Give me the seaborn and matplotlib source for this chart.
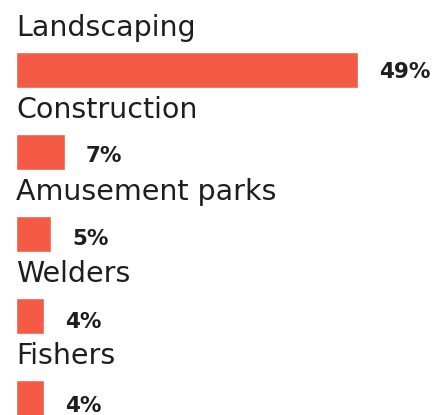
import matplotlib
matplotlib.use("Agg")
import matplotlib.pyplot as plt
import seaborn as sns
import pandas as pd

categories = ["Landscaping", "Construction", "Amusement parks", "Welders", "Fishers"]
values = [49, 7, 5, 4, 4]
value_labels = ["49%", "7%", "5%", "4%", "4%"]

sns.set_style("white")
plt.rcParams['font.family'] = ['DejaVu Sans']

W, H = 441, 415
fig = plt.figure(figsize=(W / 100, H / 100), dpi=100)
px_per_unit = 6.98
left_px = 16
ax_w_px = W - left_px
ax = fig.add_axes([left_px / W, 0, ax_w_px / W, 1])

df = pd.DataFrame({"cat": categories, "val": values})
sns.barplot(data=df, x="val", y="cat", orient="h", color="#F45A44",
            saturation=1, width=0.44, ax=ax)

ax.set_xlim(0, ax_w_px / px_per_unit)
spacing = 82.0
ax.set_ylim(4 + (H - 398) / spacing, -70 / spacing)

for i, (c, v, lab) in enumerate(zip(categories, values, value_labels)):
    ax.text(0, i - 0.22 - 16 / spacing, c, ha="left", va="baseline",
            fontsize=20.5, color="#1e1e1e")
    ax.text(v + 21 / px_per_unit, i + (2.5 + 1.3 * i) / spacing, lab, ha="left",
            va="center", fontsize=15.5, fontweight="bold", color="#1e1e1e")

ax.set_axis_off()
fig.savefig("out.png", dpi=100)
